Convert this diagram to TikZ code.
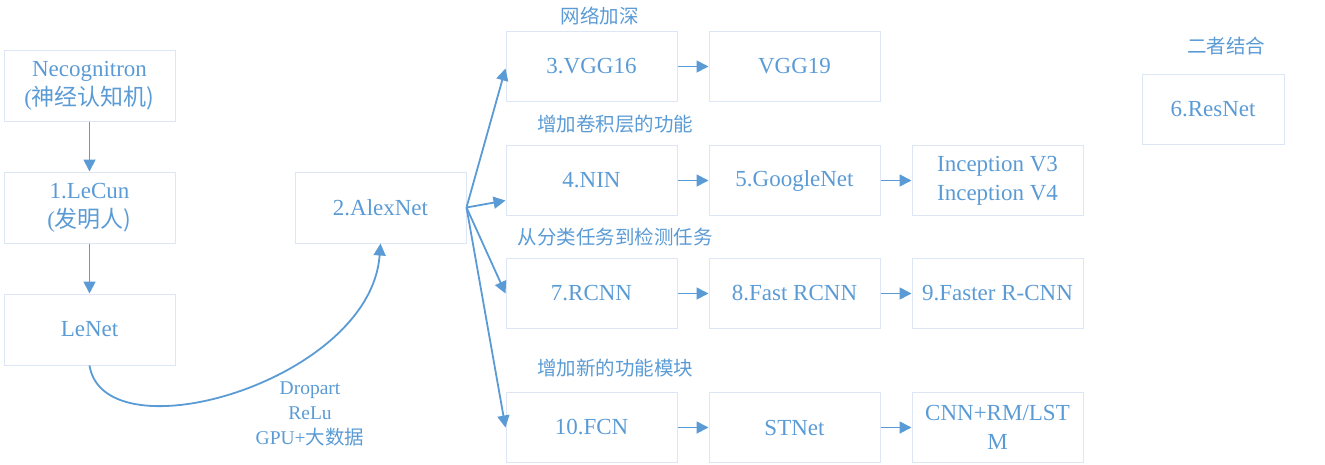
\documentclass[tikz,border=0pt]{standalone}
\usepackage{fontspec}
\setmainfont{Liberation Serif}
\newfontfamily\cjk{Noto Sans CJK SC}
\usepackage{tikz}
\usetikzlibrary{positioning, arrows.meta}
\definecolor{netblue}{RGB}{91,155,213}
\definecolor{boxline}{RGB}{220,230,245}

\begin{document}
\begin{tikzpicture}[
  x=1pt, y=-1pt,
  font=\fontsize{23}{29}\selectfont,
  node distance=31pt and 31pt,
  net/.style={draw=boxline, line width=1pt, minimum width=171pt,
    minimum height=70pt, align=center, text=netblue, inner sep=2pt},
  topic/.style={text=netblue, font=\cjk\fontsize{19.5}{25}\selectfont},
  arrow/.style={-{Triangle[length=12pt, width=12pt]}, draw=netblue,
    line width=1.8pt},
]
  \useasboundingbox (0,0) rectangle (1325,464);

  % Origins
  \node[net, minimum height=71pt] (neo) at (89.5,85.5)
    {Necognitron\\(\cjk{神经认知机})};
  \node[net, minimum height=71pt, below=50pt of neo] (lecun)
    {1.LeCun\\(\cjk{发明人})};
  \node[net, minimum height=71pt, below=50pt of lecun] (lenet) {LeNet};
  \node[net, minimum height=71pt, right=119pt of lecun] (alex) {2.AlexNet};

  % Branches
  \node[net] (vgg16) at (591.5,66.5) {3.VGG16};
  \node[net, right=of vgg16] (vgg19) {VGG19};
  \node[net, below=43pt of vgg16] (nin) {4.NIN};
  \node[net, right=of nin] (goog) {5.GoogleNet};
  \node[net, right=of goog] (incep) {Inception V3\\Inception V4};
  \node[net, below=42pt of nin] (rcnn) {7.RCNN};
  \node[net, right=of rcnn] (fast) {8.Fast RCNN};
  \node[net, right=of fast] (faster) {9.Faster R-CNN};
  \node[net, below=63pt of rcnn] (fcn) {10.FCN};
  \node[net, right=of fcn] (stn) {STNet};
  \node[net, right=of stn] (lstm) {CNN+RM/LST\\M};
  \node[net, minimum width=142pt] (res) at (1213,109) {6.ResNet};

  % Topic labels
  \node[topic] (t1) at (599.5,16) {网络加深};
  \node[topic] (t2) at (615,124) {增加卷积层的功能};
  \node[topic] (t3) at (615,237) {从分类任务到检测任务};
  \node[topic] (t4) at (615,368) {增加新的功能模块};
  \node[topic] (t5) at (1226,46) {二者结合};
  \node[text=netblue, align=center, font=\fontsize{19.5}{25}\selectfont]
    (trick) at (310,414) {Dropart\\ReLu\\GPU+\cjk{大数据}};

  % Arrows
  \draw[arrow] (neo) -- (lecun);
  \draw[arrow] (lecun) -- (lenet);
  \draw[arrow] (lenet.south) .. controls +(15,92) and +(-10,138) .. (alex.south);
  \draw[arrow] (alex.east) -- ([yshift=-2pt]vgg16.west);
  \draw[arrow] (alex.east) -- ([yshift=-20pt]nin.west);
  \draw[arrow] (alex.east) -- (rcnn.west);
  \draw[arrow] (alex.east) -- (fcn.west);
  \foreach \a/\b in {vgg16/vgg19, nin/goog, goog/incep,
                     rcnn/fast, fast/faster, fcn/stn, stn/lstm}
    \draw[arrow] (\a) -- (\b);
\end{tikzpicture}
\end{document}
